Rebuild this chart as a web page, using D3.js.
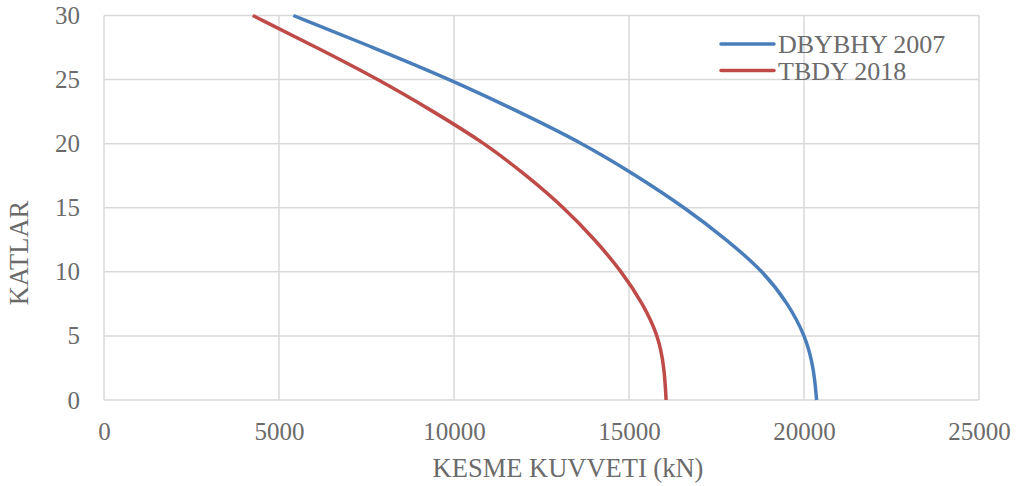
<!DOCTYPE html>
<html>
<head>
<meta charset="utf-8">
<script src="https://cdn.jsdelivr.net/npm/d3@7"></script>
<style>
  html, body { margin: 0; padding: 0; background: #fff; }
  svg { display: block; }
  text { font-family: "Liberation Serif", "Times New Roman", serif; fill: #6b6b6b; }
</style>
</head>
<body>
<svg id="chart" width="1020" height="486"></svg>
<script>
// ---- data ----
const floors = [0, 2.5, 5, 7.5, 10, 12.5, 15, 17.5, 20, 22.5, 25, 27.5, 30];
const dbybhy2007 = [20360, 20280, 20040, 19550, 18850, 17800, 16600, 15220, 13700, 11850, 9900, 7700, 5410];
const tbdy2018   = [16060, 16010, 15840, 15400, 14800, 14030, 13150, 12080, 10900, 9420, 7850, 6080, 4250];
const seriesNames = ["DBYBHY 2007", "TBDY 2018"];
const xTicks = [0, 5000, 10000, 15000, 20000, 25000];
const yTicks = [0, 5, 10, 15, 20, 25, 30];
const xTitle = "KESME KUVVETI (kN)";
const yTitle = "KATLAR";

// ---- layout ----
const svg = d3.select("#chart");
const L = 104, R = 979, T = 15.5, B = 400;
const x = d3.scaleLinear().domain([0, 25000]).range([L, R]);
const y = d3.scaleLinear().domain([0, 30]).range([B, T]);
const colors = ["#4a7ebb", "#be4b48"];
const gridColor = "#d9d9d9";

// grid
svg.append("g").selectAll("line").data(xTicks).join("line")
  .attr("x1", d => x(d)).attr("x2", d => x(d))
  .attr("y1", T).attr("y2", B)
  .attr("stroke", gridColor).attr("stroke-width", 1.5);
svg.append("g").selectAll("line").data(yTicks).join("line")
  .attr("x1", L).attr("x2", R)
  .attr("y1", d => y(d)).attr("y2", d => y(d))
  .attr("stroke", gridColor).attr("stroke-width", 1.5);

// axes (labels only)
const xAxis = svg.append("g").attr("transform", `translate(0,${B})`)
  .call(d3.axisBottom(x).tickValues(xTicks).tickFormat(d3.format("d")).tickSize(0).tickPadding(22));
xAxis.select(".domain").remove();
xAxis.attr("font-family", null).attr("font-size", null);
xAxis.selectAll("text").style("font-size", "25px").attr("fill", "#6b6b6b");

const yAxis = svg.append("g").attr("transform", `translate(${L},0)`)
  .call(d3.axisLeft(y).tickValues(yTicks).tickFormat(d3.format("d")).tickSize(0).tickPadding(24));
yAxis.select(".domain").remove();
yAxis.attr("font-family", null).attr("font-size", null);
yAxis.selectAll("text").style("font-size", "25px").attr("fill", "#6b6b6b");

// lines
const seriesData = [dbybhy2007, tbdy2018];
const line = d3.line()
  .x(d => x(d.v)).y(d => y(d.f))
  .curve(d3.curveBasis);
seriesData.forEach((vals, i) => {
  const pts = floors.map((f, j) => ({ f, v: vals[j] }));
  svg.append("path").datum(pts)
    .attr("d", line)
    .attr("fill", "none")
    .attr("stroke", colors[i])
    .attr("stroke-width", 3.5)
    .attr("stroke-linecap", "butt");
});

// legend
const legend = svg.append("g");
seriesNames.forEach((name, i) => {
  const ly = 44 + i * 26.5;
  legend.append("line")
    .attr("x1", 721).attr("x2", 774).attr("y1", ly).attr("y2", ly)
    .attr("stroke", colors[i]).attr("stroke-width", 3.5).attr("stroke-linecap", "round");
  legend.append("text")
    .attr("x", 778).attr("y", ly).attr("dy", "0.35em")
    .style("font-size", "26px").text(name);
});

// axis titles
svg.append("text")
  .attr("x", 568).attr("y", 477)
  .attr("text-anchor", "middle")
  .style("font-size", "26.5px")
  .text(xTitle);
svg.append("text")
  .attr("transform", "translate(28,253) rotate(-90)")
  .attr("text-anchor", "middle")
  .style("font-size", "26.5px")
  .text(yTitle);
</script>
</body>
</html>
